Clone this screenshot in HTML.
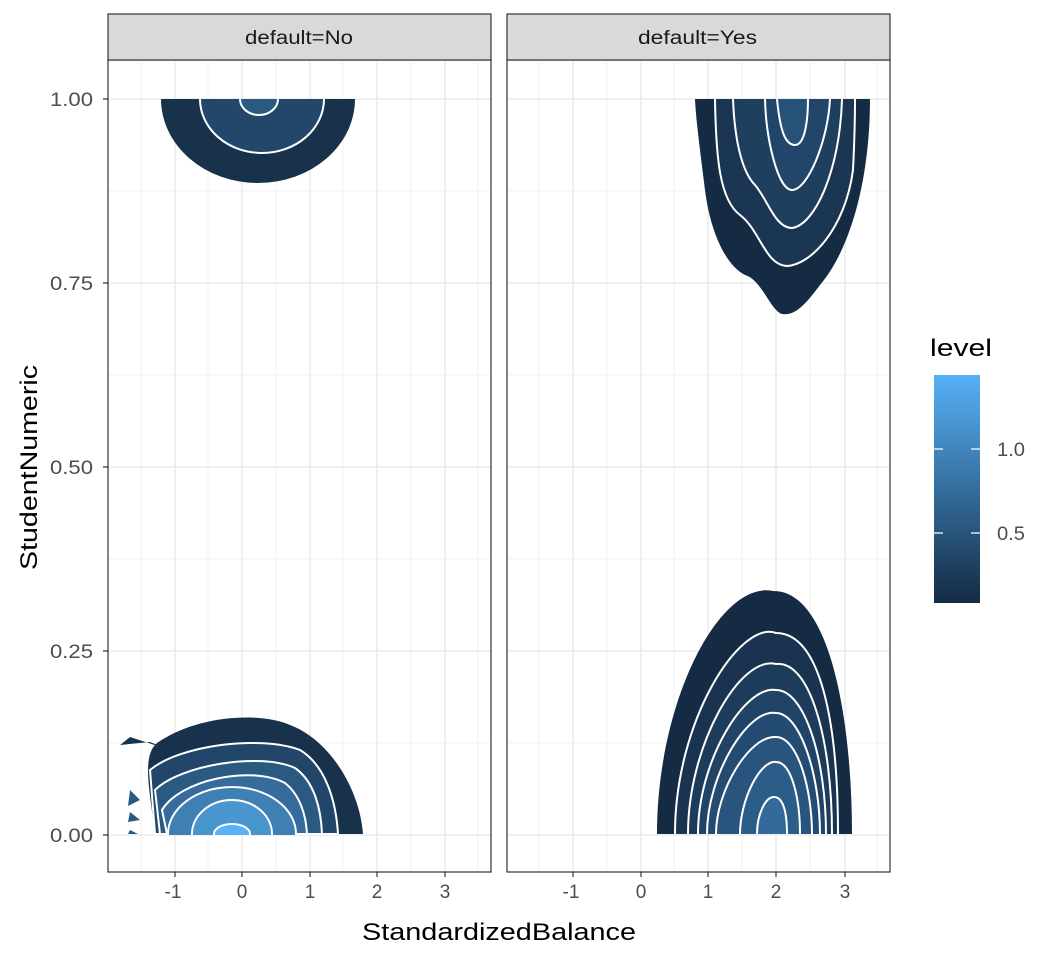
<!DOCTYPE html>
<html><head><meta charset="utf-8"><style>
body{margin:0;background:#fff}
text{font-family:"Liberation Sans",sans-serif}
</style></head><body>
<svg width="1056" height="960" xmlns="http://www.w3.org/2000/svg">
<defs>
<clipPath id="cl"><rect x="108" y="60" width="383" height="775"/></clipPath>
<clipPath id="ctop"><rect x="0" y="99" width="1056" height="800"/></clipPath>
<linearGradient id="lg" x1="0" y1="1" x2="0" y2="0"><stop offset="0" stop-color="#132B43"/><stop offset="1" stop-color="#56B1F7"/></linearGradient>
</defs>
<rect width="1056" height="960" fill="#fff"/>
<g stroke="#f2f2f2" stroke-width="1">
<path d="M108 191H491M108 375H491M108 559H491M108 743H491M507 191H890M507 375H890M507 559H890M507 743H890"/>
<path d="M141 60V872M208 60V872M276 60V872M343 60V872M411 60V872M478 60V872M539 60V872M607 60V872M674 60V872M742 60V872M810 60V872M877 60V872"/>
</g>
<g stroke="#ebebeb" stroke-width="1.6">
<path d="M108 99H491M108 283H491M108 467H491M108 651H491M108 835H491M507 99H890M507 283H890M507 467H890M507 651H890M507 835H890"/>
<path d="M175 60V872M242 60V872M310 60V872M377 60V872M445 60V872M573 60V872M641 60V872M708 60V872M776 60V872M845 60V872"/>
</g>
<g clip-path="url(#ctop)" stroke="#fff" stroke-width="2">
<ellipse cx="258" cy="99" rx="97" ry="84" fill="#19324c" stroke="none"/>
<ellipse cx="262" cy="99" rx="62" ry="54" fill="#22476a"/>
<ellipse cx="259" cy="99" rx="19" ry="16" fill="#2a5a82"/>
</g>
<g clip-path="url(#cl)" stroke="#fff" stroke-width="2">
<path d="M155 834 C150 790 140 752 160 741 C200 715 260 712 290 725 C330 740 360 790 363 834Z" fill="#19324c" stroke="none"/>
<path d="M120 745 L150 742 L170 750 L130 737Z" fill="#19324c" stroke="none"/>
<path d="M130 790 L140 800 L128 806Z M130 812 L140 820 L128 822Z M130 830 L138 834 L128 834Z" fill="#2a5a82" stroke="none"/>
<path d="M150 770 C180 745 260 735 300 750 C325 765 336 800 338 834 L155 834Z" fill="#21466a"/>
<path d="M155 790 C180 765 260 752 295 768 C315 782 321 810 322 834 L160 834Z" fill="#2a5a82"/>
<path d="M162 810 C180 780 250 765 285 783 C300 795 306 815 307 834 L167 834Z" fill="#356c9b"/>
<ellipse cx="232" cy="834" rx="64" ry="47" fill="#3f80b4"/>
<ellipse cx="232" cy="834" rx="40" ry="34" fill="#4996cf"/>
<ellipse cx="232" cy="834" rx="18" ry="10" fill="#56b1f7"/>
</g>
<g stroke="#fff" stroke-width="2">
<path d="M695 99 L870 99 C870 180 850 250 820 285 C805 305 795 316 782 314 C770 310 762 280 745 275 C725 265 710 230 705 190 C700 150 696 120 695 99Z" fill="#152b44" stroke="none"/>
<path d="M715 99 C716 160 720 200 740 215 C760 230 765 265 787 266 C810 265 845 230 853 170 C855 130 855 110 855 99" fill="#1b3653"/>
<path d="M733 99 C735 150 745 175 755 185 C768 200 775 228 792 228 C815 225 840 170 842 99" fill="#1f3f5f"/>
<path d="M765 99 C766 140 778 190 792 190 C808 190 828 140 830 99" fill="#224669"/>
<path d="M777 99 C780 130 785 145 795 145 C805 145 808 120 808 99" fill="#26527a"/>
</g>
<g stroke="#fff" stroke-width="2">
<path d="M657 834 C657 700 720 580 773 591 C830 590 852 720 852 834Z" fill="#152b44" stroke="none"/>
<path d="M675 834 C675 720 740 620 776 633 C820 633 838 720 838 834" fill="#193350"/>
<path d="M688 834 C688 745 740 655 776 664 C810 660 832 740 832 834" fill="#1d3b5b"/>
<path d="M698 834 C698 760 745 685 776 690 C805 690 826 760 826 834" fill="#214366"/>
<path d="M707 834 C707 775 748 708 776 713 C800 713 820 775 820 834" fill="#244b71"/>
<path d="M716 834 C716 790 750 735 776 737 C798 737 812 790 812 834" fill="#28547d"/>
<path d="M740 834 C740 800 760 760 776 762 C792 762 800 800 800 834" fill="#2c5d89"/>
<path d="M757 834 C757 815 765 797 774 797 C784 797 787 815 787 834" fill="#336a9b"/>
</g>
<g fill="none" stroke="#333" stroke-width="1.2">
<rect x="108" y="60" width="383" height="812"/>
<rect x="507" y="60" width="383" height="812"/>
</g>
<rect x="108" y="14" width="383" height="46" fill="#d9d9d9" stroke="#333" stroke-width="1.2"/>
<rect x="507" y="14" width="383" height="46" fill="#d9d9d9" stroke="#333" stroke-width="1.2"/>
<text x="245" y="44" font-size="19" fill="#1a1a1a" textLength="108" lengthAdjust="spacingAndGlyphs">default=No</text>
<text x="638" y="44" font-size="19" fill="#1a1a1a" textLength="119" lengthAdjust="spacingAndGlyphs">default=Yes</text>
<g stroke="#333" stroke-width="1.2"><path d="M103 99H108M103 283H108M103 467H108M103 651H108M103 835H108"/>
<path d="M175 872V877M242 872V877M310 872V877M377 872V877M445 872V877M573 872V877M641 872V877M708 872V877M776 872V877M845 872V877"/></g>
<g font-size="19" fill="#4d4d4d">
<text x="50" y="106" textLength="43" lengthAdjust="spacingAndGlyphs">1.00</text>
<text x="50" y="290" textLength="43" lengthAdjust="spacingAndGlyphs">0.75</text>
<text x="50" y="474" textLength="43" lengthAdjust="spacingAndGlyphs">0.50</text>
<text x="50" y="658" textLength="43" lengthAdjust="spacingAndGlyphs">0.25</text>
<text x="50" y="842" textLength="43" lengthAdjust="spacingAndGlyphs">0.00</text>
</g>
<g font-size="19" fill="#4d4d4d" text-anchor="middle">
<text x="173" y="898">-1</text><text x="242" y="898">0</text><text x="310" y="898">1</text><text x="377" y="898">2</text><text x="445" y="898">3</text>
<text x="571" y="898">-1</text><text x="641" y="898">0</text><text x="708" y="898">1</text><text x="776" y="898">2</text><text x="845" y="898">3</text>
</g>
<text x="362" y="940" font-size="24" fill="#000" textLength="274" lengthAdjust="spacingAndGlyphs">StandardizedBalance</text>
<text transform="translate(37,570) rotate(-90)" font-size="24" fill="#000" textLength="205" lengthAdjust="spacingAndGlyphs">StudentNumeric</text>
<text x="930" y="356" font-size="24" fill="#000" textLength="62" lengthAdjust="spacingAndGlyphs">level</text>
<rect x="934" y="375" width="46" height="228" fill="url(#lg)"/>
<g stroke="#fff" stroke-width="1.2"><path d="M934 449H943M971 449H980M934 533H943M971 533H980"/></g>
<g font-size="19" fill="#4d4d4d"><text x="997" y="456" textLength="28" lengthAdjust="spacingAndGlyphs">1.0</text><text x="997" y="540" textLength="28" lengthAdjust="spacingAndGlyphs">0.5</text></g>
</svg>
</body></html>
